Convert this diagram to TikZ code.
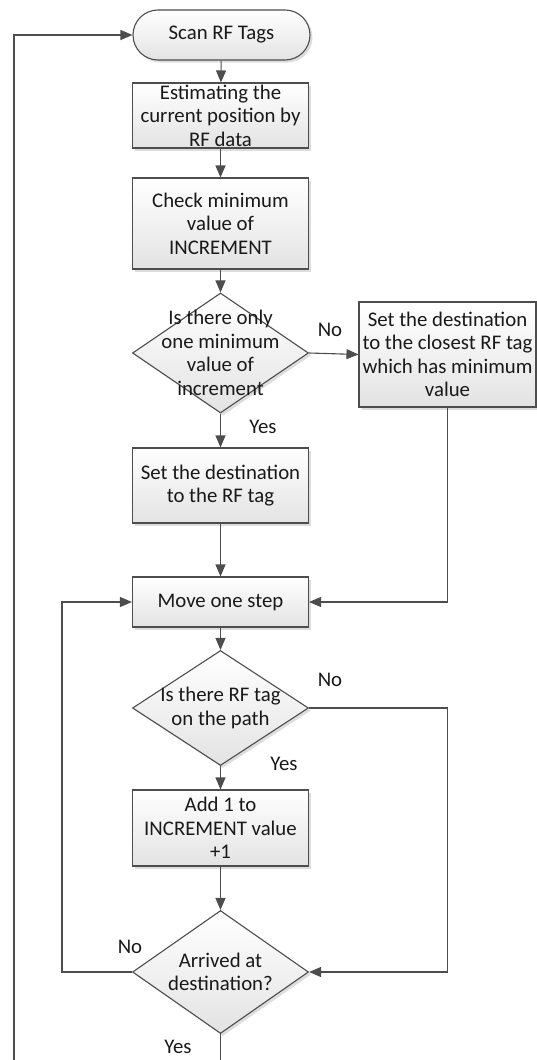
\documentclass[tikz,border=0pt]{standalone}
\usepackage{fontspec}
\setmainfont{Carlito}
\usetikzlibrary{shapes.geometric,shadows,arrows.meta}
\definecolor{ln}{HTML}{4D4D4D}
\tikzset{
  shp/.style={draw=ln, line width=1.1pt, top color=white, bottom color=black!11, inner sep=0pt,
     drop shadow={shadow xshift=2.5pt, shadow yshift=-2.5pt, fill=black!22, opacity=0.6}},
  box/.style={shp, rectangle, minimum width=176pt},
  dia/.style={shp, diamond, minimum width=176pt},
  term/.style={shp, rectangle, rounded corners=25pt, minimum width=177pt, minimum height=50pt},
  txt/.style={align=center, inner sep=0pt, font=\fontsize{20.8}{23.5}\selectfont, text=black!90},
  lbl/.style={inner sep=0pt, font=\fontsize{20.8}{23.5}\selectfont, text=black!90},
  arr/.style={draw=ln, line width=1.1pt, -{Triangle[length=12pt,width=10pt]}},
  ln/.style={draw=ln, line width=1.1pt}
}
\begin{document}
\begin{tikzpicture}[x=1pt,y=-1pt]
\useasboundingbox (0,0) rectangle (537,1060);
% shapes
\node[term] (scan) at (221.5,35) {};
\node[box, minimum height=65pt] (est) at (220.5,115.5) {};
\node[box, minimum height=91pt] (chk) at (220.5,223.5) {};
\node[dia, minimum height=120pt] (d1) at (220.5,353) {};
\node[box, minimum height=105pt, minimum width=177pt] (rbox) at (447.5,354.5) {};
\node[box, minimum height=75pt] (setrf) at (220.5,485.5) {};
\node[box, minimum height=50pt] (move) at (220.5,602) {};
\node[dia, minimum height=115pt] (d2) at (220.5,708) {};
\node[box, minimum height=76pt] (add) at (220.5,828) {};
\node[dia, minimum height=123pt] (d3) at (220.5,972) {};
% texts
\node[txt] at (scan) {Scan RF Tags};
\node[txt] at (est) {Estimating the\\current position by\\RF data};
\node[txt] at (chk) {Check minimum\\value of\\INCREMENT};
\node[txt] at (d1) {Is there only\\one minimum\\value of\\increment};
\node[txt] at (rbox) {Set the destination\\to the closest RF tag\\which has minimum\\value};
\node[txt] at (setrf) {Set the destination\\to the RF tag};
\node[txt] at (move) {Move one step};
\node[txt] at (d2) {Is there RF tag\\on the path};
\node[txt] at (add) {Add 1 to\\INCREMENT value\\+1};
\node[txt] at (d3) {Arrived at\\destination?};
% labels
\node[lbl] (n1) at (330,330) {No};
\node[lbl] (y1) at (263,427) {Yes};
\node[lbl] (n2) at (330,680) {No};
\node[lbl] (y2) at (284,764) {Yes};
\node[lbl] (n3) at (130,947) {No};
\node[lbl] (y3) at (178,1047) {Yes};
% coordinates
\coordinate (bl) at (14,1060);
\coordinate (bc) at (220.5,1060);
\coordinate (r2) at (447.5,708);
\coordinate (l2) at (62,972);
% connectors
\draw[arr] (bl) |- (scan.west);
\draw[arr] (scan) -- (est);
\draw[arr] (est) -- (chk);
\draw[arr] (chk) -- (d1);
\draw[arr] (d1.east) -- (rbox.west);
\draw[arr] (d1.south) -- (setrf);
\draw[arr] (rbox.south) |- (move.east);
\draw[arr] (setrf) -- (move);
\draw[arr] (move) -- (d2);
\draw[arr] (d2.south) -- (add);
\draw[arr] (d2.east) -- (r2) |- (d3.east);
\draw[arr] (add) -- (d3);
\draw[arr] (d3.west) -- (l2) |- (move.west);
\draw[ln] (d3.south) -- (bc);
\end{tikzpicture}
\end{document}
